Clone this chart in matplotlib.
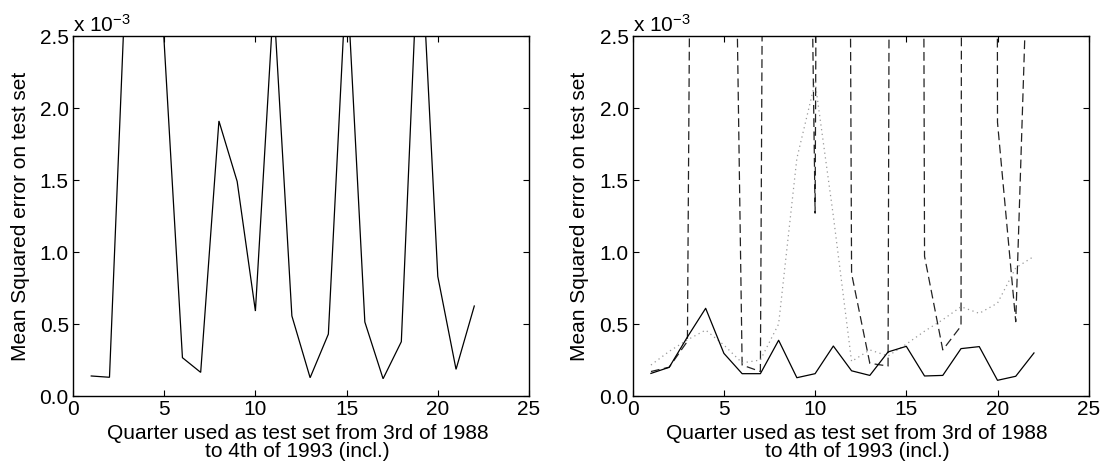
import matplotlib
matplotlib.use("Agg")
import matplotlib.pyplot as plt
import numpy as np

plt.rcParams['font.family'] = ['Liberation Sans', 'DejaVu Sans']
plt.rcParams['mathtext.fontset'] = 'custom'
plt.rcParams['mathtext.rm'] = 'Liberation Sans'
plt.rcParams['mathtext.default'] = 'regular'

# ---- data (values in units of 1e-3) ----
quarters = list(range(1, 23))

left_solid = [0.139, 0.13, 3.25, 5.0, 2.45, 0.266, 0.164, 1.91, 1.49, 0.59, 2.75,
              0.556, 0.127, 0.43, 2.95, 0.514, 0.12, 0.377, 3.35, 0.83, 0.185, 0.625]

right_solid = [0.157, 0.199, 0.41, 0.609, 0.296, 0.155, 0.155, 0.387, 0.127, 0.155, 0.347,
               0.175, 0.143, 0.306, 0.345, 0.139, 0.143, 0.329, 0.343, 0.109, 0.137, 0.299]

right_dotted = [0.215, 0.31, 0.39, 0.458, 0.354, 0.23, 0.25, 0.50, 1.65, 2.18, 1.25,
                0.24, 0.32, 0.278, 0.36, 0.45, 0.53, 0.62, 0.574, 0.645, 0.89, 0.97]

right_dashed = [0.17, 0.2, 0.38, 20.0, 9.0, 0.215, 0.17, 25.0, 10.7, 1.27, 30.0,
                0.85, 0.227, 0.208, 45.0, 0.97, 0.32, 0.486, 100.0, 1.9, 0.516, 4.5]

x_ticks = [0, 5, 10, 15, 20, 25]
y_ticks = [0.0, 0.5, 1.0, 1.5, 2.0, 2.5]
y_ticklabels = ['0.0', '0.5', '1.0', '1.5', '2.0', '2.5']
xlabel = 'Quarter used as test set from 3rd of 1988\nto 4th of 1993 (incl.)'
ylabel = 'Mean Squared error on test set'
multiplier = r'x 10$^{-3}$'

W, H = 1103, 465
fig = plt.figure(figsize=(W / 100, H / 100), dpi=100)

ax_w = 456 / W
ax_h = 360 / H
ax_b = 1 - 396 / H
axL = fig.add_axes([73 / W, ax_b, ax_w, ax_h])
axR = fig.add_axes([632.7 / W, ax_b, ax_w, ax_h])

fs = 15

def style(ax):
    ax.set_xlim(0, 25)
    ax.set_ylim(0, 2.5)
    ax.set_xticks(x_ticks)
    ax.set_yticks(y_ticks)
    ax.set_yticklabels(y_ticklabels)
    ax.tick_params(direction='in', top=True, right=True, length=4, width=0.8,
                   labelsize=fs, pad=3)
    for s in ax.spines.values():
        s.set_linewidth(1.0)
    ax.set_xlabel(xlabel, fontsize=fs, linespacing=0.95)
    ax.xaxis.set_label_coords(0.492, -0.078)
    ax.xaxis.label.set_va('top')
    ax.set_ylabel(ylabel, fontsize=fs)
    ax.yaxis.set_label_coords(-0.095, 0.5)
    ax.text(0.0, 1.012, multiplier, transform=ax.transAxes, ha='left',
            va='baseline', fontsize=fs)

lw = 0.9
axL.plot(quarters, left_solid, color='black', lw=lw, solid_joinstyle='miter')
style(axL)

axR.plot(quarters, right_dashed, color='#222222', lw=lw, linestyle=(0, (7, 3.6)))
axR.plot(quarters, right_dotted, color='#999999', lw=lw, linestyle=(0, (1, 2.8)))
axR.plot(quarters, right_solid, color='black', lw=lw)
style(axR)

fig.savefig('out.png', dpi=100)
